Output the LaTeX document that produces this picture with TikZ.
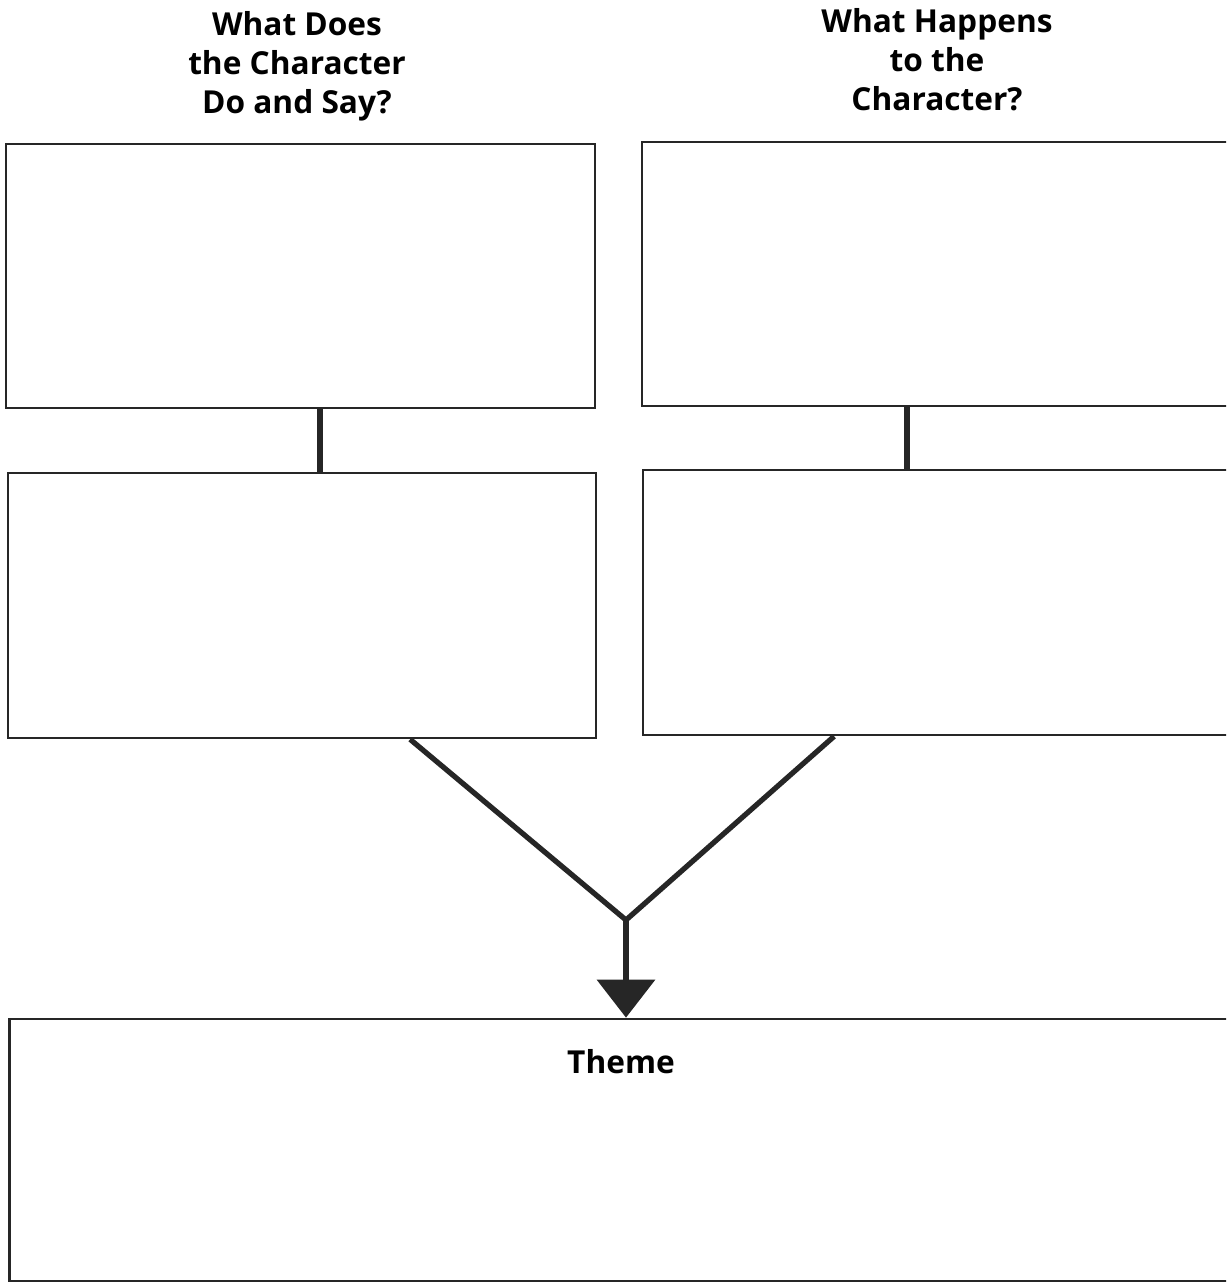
\documentclass[tikz,border=0pt]{standalone}
\usepackage{fontspec}
\setsansfont{Open Sans}
\usetikzlibrary{arrows.meta,calc}
\tikzset{
  ansbox/.style={draw=black!85, rectangle, line width=0.7pt, inner sep=0pt, minimum height=2.64cm},
  headtext/.style={font=\sffamily\bfseries\fontsize{9}{11.1}\selectfont, align=center},
  linkbar/.style={draw=black!85, line width=1.8pt},
  funnel/.style={draw=black!85, line width=1.5pt, line join=miter},
  downarrow/.style={draw=black!85, line width=1.9pt, -{Triangle[width=0.57cm,length=0.38cm]}}
}

\begin{document}
\begin{tikzpicture}[x=0.01cm,y=-0.01cm]
    \useasboundingbox (0,0) rectangle (1226,1284);
    \clip (0,0) rectangle (1226,1284);
    \node[headtext] (hl) at (297,66) {What Does\\the Character\\Do and Say?};
    \node[headtext] (hr) at (937,60) {What Happens\\to the\\Character?};

    \node[ansbox, minimum width=5.89cm] (lt) at (300.5,276) {};
    \node[ansbox, minimum width=5.98cm] (rt) at (941,274) {};
    \node[ansbox, minimum width=5.88cm, minimum height=2.65cm] (lm) at (302,605.5) {};
    \node[ansbox, minimum width=5.97cm, minimum height=2.65cm] (rm) at (941.5,602.5) {};
    \node[ansbox, minimum width=12.30cm, minimum height=2.62cm] (th) at (625,1150) {};
    \node[headtext] (thl) at (621,1062) {Theme};

    \coordinate (j) at (626,920);
    \draw[linkbar] (lt.south -| 320,0) -- (lm.north -| 320,0);
    \draw[linkbar] (rt.south -| 907,0) -- (rm.north -| 907,0);
    \draw[funnel] ($(lm.south west)!0.683!(lm.south east)$) -- (j) -- ($(rm.south west)!0.321!(rm.south east)$);
    \draw[downarrow] (j) -- (th.north -| j);
\end{tikzpicture}
\end{document}
